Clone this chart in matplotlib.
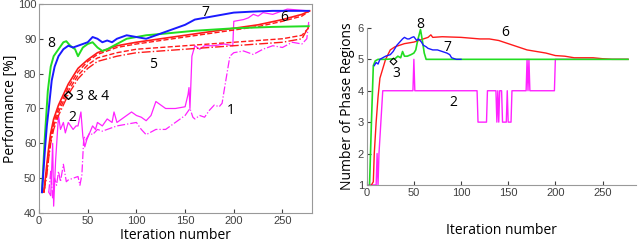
import numpy as np
import matplotlib
matplotlib.use("Agg")
from matplotlib import pyplot as plt

plt.rcParams['font.family'] = ['Liberation Sans', 'DejaVu Sans']

# ---- left panel: performance ----
it7 = [3, 6, 8, 10, 13, 16, 20, 25, 30, 35, 40, 45, 50, 55, 60, 65, 70, 75, 80, 90,
       100, 110, 120, 130, 140, 150, 160, 170, 180, 200, 220, 240, 260, 277]
perf7 = [46, 58, 65, 70, 78, 82, 85, 87, 88, 87.5, 88, 88.5, 89, 90.5, 90, 89, 89.5, 89, 90, 91,
         90.5, 90, 91, 92, 93, 94, 95.5, 96, 96.5, 97.5, 97.8, 98, 98, 98]

it8 = [3, 6, 9, 12, 15, 20, 25, 28, 32, 37, 40, 45, 50, 55, 60, 65, 70, 80, 90,
       100, 110, 130, 160, 200, 240, 277]
perf8 = [46, 62, 75, 82, 85, 87, 89, 89.3, 88, 87, 85, 87.5, 88.5, 89, 87.5, 86.5, 87, 88.5, 90,
         90.5, 91, 91.5, 92.3, 93, 93.4, 93.6]

it_red = [5, 8, 10, 12, 15, 20, 25, 30, 40, 50, 60, 80, 100, 125, 150, 175, 200, 225, 250, 270, 278]
perf6 = [46, 54, 59, 63, 67, 71, 74, 77, 81.5, 84, 86, 88, 89, 90, 91, 92, 93, 94, 95.5, 97, 98]
perf4 = [46, 53, 58, 62, 66, 70, 73, 76, 80.5, 83.5, 85.5, 87.5, 88.5, 89.5, 90.5, 91.5, 92.5, 93.5, 95, 96.5, 98]
perf3 = [46, 52, 57, 61, 65, 69, 72, 75, 79.5, 82.5, 84.5, 86, 87, 87.5, 88, 88.5, 89, 89.5, 90, 91, 93.5]
perf5 = [46, 51, 56, 60, 64, 68, 71, 74, 78.5, 81.5, 83.5, 85, 86, 86.5, 87, 87.5, 88, 88.5, 89, 90, 94]

it2 = [10, 12, 14, 15, 17, 20, 22, 25, 27, 30, 35, 38, 40, 43, 45, 47, 49, 52, 55, 58, 60, 65,
       70, 75, 77, 80, 85, 90, 95, 100, 105, 110, 115, 120, 125, 130, 140, 150, 153, 154, 155,
       157, 160, 165, 170, 180, 190, 199, 200, 210, 215, 220, 225, 230, 240, 255, 277]
perf2 = [46, 45, 60, 42, 55, 68, 64, 66, 63, 66, 64, 65, 65, 69, 62, 59, 61, 63, 65, 64, 66, 65,
         67, 66, 69, 66, 67, 68, 69, 68, 67.5, 66.5, 68, 72, 71, 70, 70, 70.5, 74, 76, 70,
         85, 88, 87, 88, 88, 88.5, 88, 95, 95.5, 96, 97, 96.5, 97.5, 97, 98.5, 98]

it1 = [10, 12, 14, 16, 18, 20, 22, 25, 28, 30, 35, 40, 42, 44, 46, 48, 52, 55, 60, 65, 70,
       80, 90, 100, 105, 110, 120, 130, 140, 150, 155, 158, 160, 165, 170, 175, 180, 185,
       188, 190, 193, 196, 200, 210, 220, 230, 240, 250, 260, 270, 275, 277]
perf1 = [46, 52, 44, 50, 48, 52, 49, 54, 49, 49.5, 50, 50.5, 48, 51, 62, 61, 63, 62.5, 64, 63.5, 64,
         65, 65.5, 66, 64, 62.5, 64, 64, 66, 68, 70, 67.5, 67, 68, 67.5, 69.5, 71, 70.5,
         71.5, 75, 80, 85, 86, 86.5, 85.5, 87, 88, 87.5, 89, 88.5, 90, 95]

# ---- right panel: number of phase regions ----
itr6 = [5, 7, 8, 10, 12, 14, 17, 20, 25, 30, 40, 50, 55, 60, 65, 68, 70, 80, 100, 120,
        130, 140, 150, 160, 170, 180, 190, 200, 210, 220, 230, 240, 250, 260, 277]
reg6 = [1, 1.1, 2, 3, 3.8, 4.4, 4.7, 5.0, 5.3, 5.4, 5.5, 5.55, 5.6, 5.65, 5.7, 5.78, 5.7, 5.72, 5.7, 5.65,
        5.65, 5.6, 5.5, 5.4, 5.3, 5.25, 5.2, 5.12, 5.1, 5.05, 5.05, 5.05, 5.02, 5.0, 5.0]

itr7 = [8, 10, 12, 14, 17, 20, 25, 28, 32, 35, 38, 40, 43, 45, 48, 50, 53, 55, 58, 60, 63,
        65, 70, 75, 80, 85, 88, 90, 95, 100]
reg7 = [4.8, 4.9, 4.85, 5.0, 5.05, 5.1, 5.15, 5.25, 5.45, 5.55, 5.65, 5.7, 5.65, 5.65, 5.7, 5.72, 5.6, 5.65, 5.55, 5.45, 5.4,
        5.35, 5.3, 5.3, 5.25, 5.2, 5.15, 5.05, 5.0, 5.0]

itr8 = [3, 5, 7, 9, 12, 20, 30, 33, 36, 38, 40, 43, 47, 50, 52, 54, 57, 59, 61, 63, 70,
        90, 120, 200, 277]
reg8 = [1, 3, 4.8, 4.95, 5.0, 5.0, 5.02, 5.1, 5.05, 5.25, 5.1, 5.1, 5.15, 5.2, 5.3, 5.6, 5.95, 5.6, 5.2, 5.0, 5.0,
        5.0, 5.0, 5.0, 5.0]

itr2 = [0, 10, 11, 12, 13, 17, 49, 50, 51, 117, 118, 127, 128, 137, 138, 139, 140, 141, 143,
        144, 148, 149, 150, 153, 154, 169, 170, 171, 172, 173, 199, 200, 277]
reg2 = [1, 1, 2, 1, 2, 4, 4, 5, 4, 4, 3, 3, 4, 4, 3, 4, 3, 4, 4,
        3, 3, 4, 3, 3, 4, 4, 5, 4, 5, 4, 4, 5, 5]

red = '#ff1a1a'
blue = '#1a1aff'
green = '#22dd22'
mag = '#ff22ff'
tick_col = '#404040'
lab_font = ['Open Sans', 'DejaVu Sans']

fig = plt.figure(figsize=(6.4, 2.43), dpi=100)
ax = fig.add_axes([0.061, 0.123, 0.426, 0.861])
ax2 = fig.add_axes([0.573, 0.239, 0.42, 0.646])

ax.plot(it1, perf1, '-.', color=mag, lw=0.9)
ax.plot(it2, perf2, '-', color=mag, lw=0.9)
ax.plot(it_red, perf5, '-.', color=red, lw=1.0)
ax.plot(it_red, perf3, '--', color=red, lw=1.0)
ax.plot(it_red, perf4, '--', color=red, lw=1.0)
ax.plot(it_red, perf6, '-', color=red, lw=1.2)
ax.plot(it8, perf8, '-', color=green, lw=1.4)
ax.plot(it7, perf7, '-', color=blue, lw=1.4)
ax.plot([30], [74], marker='D', ms=4, mfc='none', mec='black', mew=1)

ax.set_xlim(0, 280)
ax.set_ylim(40, 100)
ax.set_xticks([0, 50, 100, 150, 200, 250])
ax.set_yticks([40, 50, 60, 70, 80, 90, 100])
ax.tick_params(labelsize=8, colors=tick_col, direction='in', length=3, pad=2)
ax.set_xlabel("Iteration number", fontsize=10, family=lab_font, labelpad=1.5)
ax.set_ylabel("Performance [%]", fontsize=10, family=lab_font, labelpad=0)
for s in ax.spines.values():
    s.set_color('#999999')

lab = dict(fontsize=10, family=lab_font, color='black')
ax.text(167, 96.5, "7", **lab)
ax.text(248, 95.2, "6", **lab)
ax.text(8, 87.5, "8", **lab)
ax.text(113, 81.5, "5", **lab)
ax.text(38, 72.5, "3 & 4", **lab)
ax.text(30, 66.5, "2", **lab)
ax.text(193, 68.5, "1", **lab)

ax2.plot(itr2, reg2, '-', color=mag, lw=1.0)
ax2.plot(itr6, reg6, '-', color=red, lw=1.0)
ax2.plot(itr8, reg8, '-', color=green, lw=1.2)
ax2.plot(itr7, reg7, '-', color=blue, lw=1.0)
ax2.plot([28], [4.95], marker='D', ms=3.5, mfc='none', mec='black', mew=0.8)

ax2.set_xlim(0, 285)
ax2.set_ylim(1, 6)
ax2.set_xticks([0, 50, 100, 150, 200, 250])
ax2.set_yticks([1, 2, 3, 4, 5, 6])
ax2.tick_params(labelsize=8, colors=tick_col, direction='in', length=3, pad=2)
ax2.spines['top'].set_visible(False)
ax2.spines['right'].set_visible(False)
for s in ax2.spines.values():
    s.set_color('#999999')
ax2.set_xlabel("Iteration number", fontsize=10, family=lab_font, labelpad=18)
ax2.set_ylabel("Number of Phase Regions", fontsize=10, family=lab_font, labelpad=2)

ax2.text(52, 6.0, "8", **lab)
ax2.text(143, 5.75, "6", **lab)
ax2.text(81, 5.28, "7", **lab)
ax2.text(27, 4.45, "3", **lab)
ax2.text(88, 3.5, "2", **lab)

fig.savefig('out.png', dpi=100)
